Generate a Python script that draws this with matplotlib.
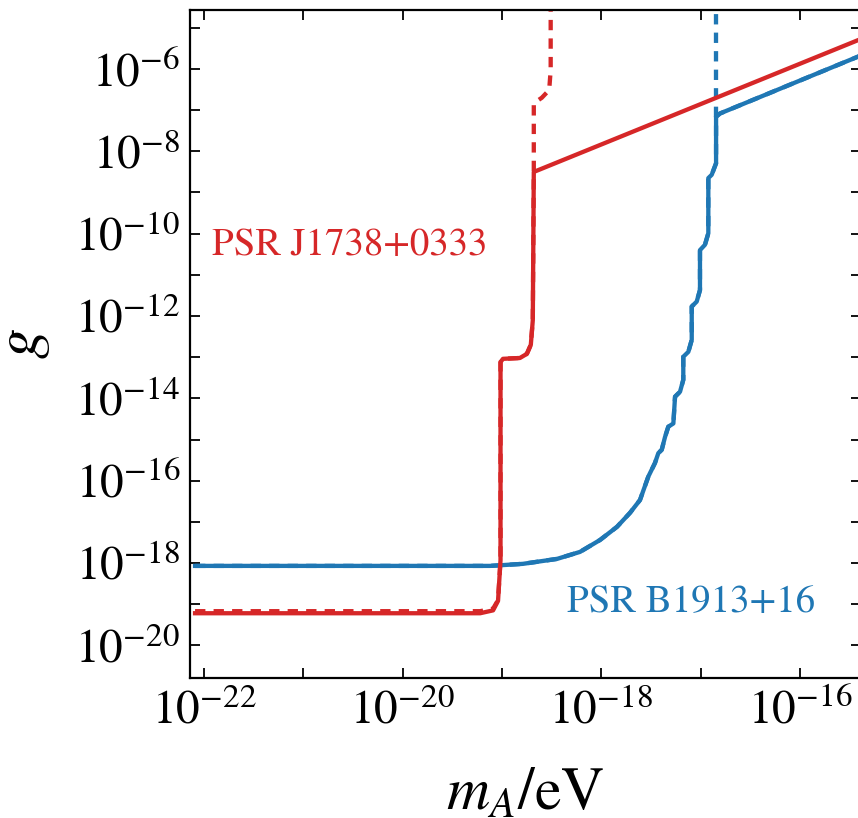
import numpy as np
import matplotlib
matplotlib.use("Agg")
import matplotlib.pyplot as plt
from matplotlib.ticker import LogLocator, FuncFormatter, NullLocator

plt.rcParams['font.family'] = ['STIXGeneral', 'DejaVu Serif']
plt.rcParams['mathtext.fontset'] = 'stix'

# ---- data (log10 values) ----
# PSR J1738+0333, solid
red_logm = [-22.09, -19.22, -19.09, -19.04, -19.015, -19.015, -18.99, -18.82, -18.75, -18.71, -18.69, -18.68, -15.386]
red_logg = [-19.22, -19.22, -19.15, -18.92, -17.93, -13.12, -13.04, -13.02, -12.92, -12.70, -12.10, -8.50, -5.27]
# PSR J1738+0333, dashed
red_d_logm = [-22.09, -19.22, -19.09, -19.04, -19.015, -19.015, -18.99, -18.82, -18.75, -18.71, -18.69, -18.68, -18.68, -18.60, -18.525, -18.51, -18.51]
red_d_logg = [-19.17, -19.17, -19.11, -18.90, -17.93, -13.12, -13.04, -13.02, -12.92, -12.70, -12.10, -8.50, -6.83, -6.70, -6.51, -6.02, -4.3]

# PSR B1913+16, solid
blue_logm = [-22.09, -19.121, -18.789, -18.446, -18.215, -18.013, -17.842, -17.711, -17.611,
             -17.527, -17.460, -17.426, -17.392, -17.359, -17.326, -17.275, -17.258, -17.208,
             -17.175, -17.175, -17.124, -17.090, -17.090, -17.040, -17.007, -17.007, -16.957,
             -16.923, -16.923, -16.889, -16.845, -16.845, -16.805, -15.386]
blue_logg = [-18.07, -18.07, -18.02, -17.90, -17.73, -17.44, -17.12, -16.78, -16.47,
             -15.90, -15.57, -15.33, -15.25, -14.94, -14.69, -14.61, -13.96, -13.84,
             -13.55, -12.99, -12.87, -12.58, -11.77, -11.65, -11.37, -10.40, -10.27,
             -9.99, -8.65, -8.57, -8.29, -7.16, -7.08, -5.67]
# PSR B1913+16, dashed vertical continuation
blue_d_logm = [-16.845, -16.845]
blue_d_logg = [-7.16, -4.3]

labels = ["PSR J1738+0333", "PSR B1913+16"]
red = "#d62728"
blue = "#1f77b4"

fig = plt.figure(figsize=(8.58, 8.18), dpi=100)
ax = fig.add_axes([190/858, 1-678/818, 671/858, 668/818])

p = lambda a: np.power(10.0, np.asarray(a))
dash = (0, (2.4, 1.9))
lw = 3.1

ax.plot(p(red_d_logm), p(red_d_logg), color=red, lw=lw, ls=dash, zorder=2, solid_joinstyle='round')
ax.plot(p(blue_logm), p(blue_logg), color=blue, lw=lw, ls=dash, zorder=2)
ax.plot(p(blue_d_logm), p(blue_d_logg), color=blue, lw=lw, ls=dash, zorder=2)
ax.plot(p(blue_logm), p(blue_logg), color=blue, lw=lw, zorder=3, solid_joinstyle='round')
ax.plot(p(red_logm), p(red_logg), color=red, lw=lw, zorder=4, solid_joinstyle='round')

ax.set_xscale('log')
ax.set_yscale('log')
ax.set_xlim(10**-22.141, 10**-15.386)
ax.set_ylim(10**-20.793, 10**-4.567)

ax.xaxis.set_major_locator(LogLocator(base=10, numticks=40))
ax.yaxis.set_major_locator(LogLocator(base=10, numticks=40))
ax.xaxis.set_minor_locator(NullLocator())
ax.yaxis.set_minor_locator(NullLocator())

def fmt(v, pos):
    e = int(round(np.log10(v)))
    if e % 2 == 0:
        return r'$10^{%d}$' % e
    return ''

ax.xaxis.set_major_formatter(FuncFormatter(fmt))
ax.yaxis.set_major_formatter(FuncFormatter(fmt))

ax.tick_params(which='both', direction='in', top=True, right=True,
               length=7, width=1.3, labelsize=34, pad=7)
ax.tick_params(axis='x', pad=8)
for s in ax.spines.values():
    s.set_linewidth(1.6)

ax.set_xlabel(r'$m_A/\mathrm{eV}$', fontsize=43)
ax.set_ylabel(r'$g$', fontsize=44)
ax.xaxis.set_label_coords(0.5, -0.135)
ax.yaxis.set_label_coords(-0.205, 0.5)

ax.text(10**-21.92, 10**-10.30, labels[0], color=red, fontsize=28, va='center', ha='left')
ax.text(10**-18.345, 10**-18.97, labels[1], color=blue, fontsize=28, va='center', ha='left')

fig.savefig("out.png", dpi=100)
